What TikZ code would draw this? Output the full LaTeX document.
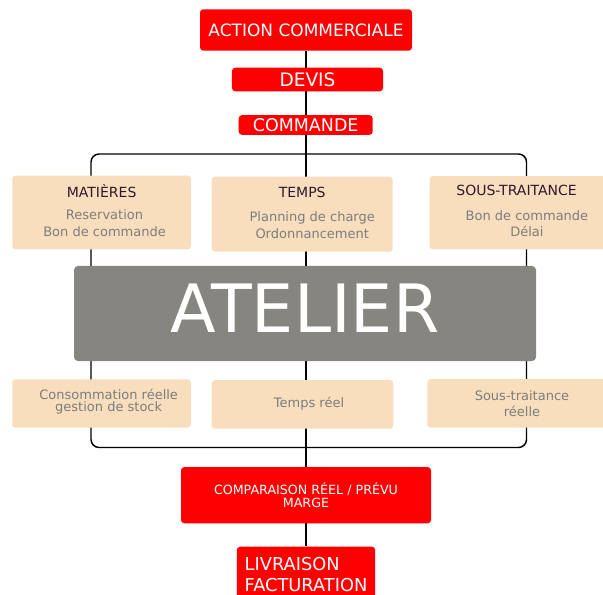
\documentclass[tikz,border=0pt]{standalone}
\usepackage{fontspec}
\setmainfont{DejaVu Sans}
\usetikzlibrary{backgrounds}
\definecolor{rouge}{HTML}{FF0000}
\definecolor{beige}{HTML}{F8DEBD}
\definecolor{gris}{HTML}{878580}
\definecolor{gristexte}{HTML}{7D7D7D}
\definecolor{titretexte}{HTML}{2E1A2E}
\begin{document}
\begin{tikzpicture}[x=0.75pt,y=-0.75pt] % 1 px = 0.75pt
\tikzstyle{myred} = [fill=rouge, text=white, rounded corners=2.5pt, inner sep=0pt] % red boxes
\tikzstyle{mybeige} = [fill=beige, rounded corners=2.5pt, inner sep=0pt] % beige boxes, text as label
\tikzstyle{mytitle} = [text=titretexte, font=\fontsize{10.5}{12}\selectfont, yshift=16.4pt]
\tikzstyle{mysub} = [text=gristexte, align=center, font=\fontsize{9.75}{12.5}\selectfont]
\tikzstyle{myline} = [line width=1.1pt, black]
\useasboundingbox (0,0) rectangle (603,595);
% top of the chain
\node[myred, minimum width=159pt, minimum height=31.1pt, font=\fontsize{12.75}{15}\selectfont] (action) at (306,30) {ACTION COMMERCIALE};
\node[myred, minimum width=113.3pt, minimum height=17.7pt, font=\fontsize{13.9}{16}\selectfont] (devis) at (307.5,79.5) {DEVIS};
\node[myred, minimum width=100.5pt, minimum height=14.8pt, font=\fontsize{13.1}{15}\selectfont] (commande) at (305.7,125) {COMMANDE};
% previsions
\node[mybeige, minimum width=134pt, minimum height=55.2pt,
  label={[mytitle]center:MATIÈRES},
  label={[mysub, xshift=2.2pt, yshift=-8.1pt]center:{Reservation\\Bon de commande}}] (mat) at (101.6,212.5) {};
\node[mybeige, minimum width=135.8pt, minimum height=56.3pt,
  label={[mytitle]center:TEMPS},
  label={[mysub, xshift=7.5pt, yshift=-8.1pt]center:{Planning de charge\\Ordonnancement}}] (temps) at (302.2,214.2) {};
\node[mybeige, minimum width=135pt, minimum height=55pt,
  label={[mytitle, xshift=-2.2pt]center:SOUS-TRAITANCE},
  label={[mysub, xshift=5.6pt, yshift=-8.1pt]center:{Bon de commande\\Délai}}] (sous) at (519.5,212.7) {};
% atelier
\node[mybeige, fill=gris, rounded corners=3pt, minimum width=346.5pt, minimum height=71.3pt,
  label={[text=white, yshift=4pt, font=\fontsize{50}{60}\selectfont]center:ATELIER}] (atelier) at (305,313.5) {};
% realise
\node[mybeige, minimum width=134pt, minimum height=36.3pt,
  label={[mysub, font=\fontsize{9.75}{8.8}\selectfont, xshift=5.3pt, yshift=1.2pt]center:{Consommation réelle\\gestion de stock}}] (conso) at (101.6,403.5) {};
\node[mybeige, minimum width=136.2pt, minimum height=36.5pt,
  label={[mysub, xshift=4.9pt, yshift=0.6pt]center:Temps réel}] (treel) at (302.5,404.4) {};
\node[mybeige, minimum width=135pt, minimum height=36.5pt,
  label={[mysub, font=\fontsize{9.75}{11.8}\selectfont, xshift=3.5pt]center:{Sous-traitance\\réelle}}] (sreel) at (517.3,403.4) {};
% bottom of the chain
\node[myred, align=center, minimum width=187.5pt, minimum height=42.2pt, font=\fontsize{9.5}{10}\selectfont] (compar) at (306,495.2) {COMPARAISON RÉEL / PRÉVU\\MARGE};
\node[myred, align=left, inner xsep=4.3pt, minimum width=103.8pt, minimum height=42pt, font=\fontsize{13.35}{15.5}\selectfont] (livr) at (306,574.7) {LIVRAISON\\FACTURATION};
% connectors behind the boxes
\coordinate (cadre1) at (91,154);
\coordinate (cadre2) at (526.5,447.5);
\begin{scope}[on background layer]
\draw[myline, rounded corners=6pt] (cadre1) rectangle (cadre2);
\draw[myline] (action) -- (livr);
\end{scope}
\end{tikzpicture}
\end{document}
